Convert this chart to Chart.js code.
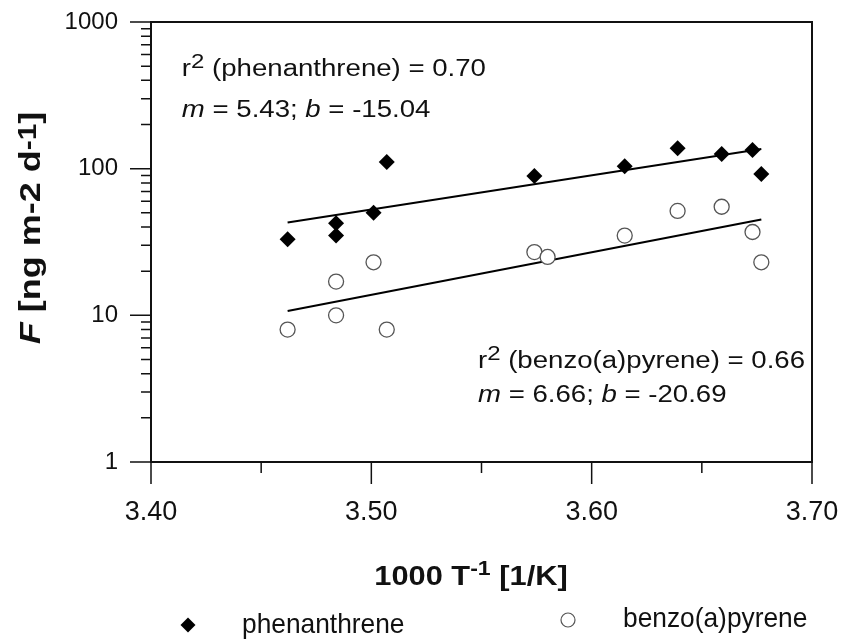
<!DOCTYPE html>
<html>
<head>
<meta charset="utf-8">
<script src="https://cdn.jsdelivr.net/npm/chart.js@4.4.1/dist/chart.umd.min.js"></script>
<style>
  html, body { margin: 0; padding: 0; background: #fff; }
</style>
</head>
<body>
<canvas id="chart" width="846" height="644"></canvas>
<script>
// measured values (log-scale flux vs 1000/T)
const phenX = [3.462, 3.484, 3.484, 3.501, 3.507, 3.574, 3.615, 3.639, 3.659, 3.673, 3.677];
const phenY = [33, 42.5, 35, 50, 111, 89, 104, 138, 126, 134, 92];

const bapX = [3.462, 3.484, 3.484, 3.501, 3.507, 3.574, 3.580, 3.615, 3.639, 3.659, 3.673, 3.677];
const bapY = [8.0, 17.0, 10.0, 23, 8.0, 27, 25, 35, 51.5, 55, 37, 23];

// regression line end points
const fitX = [3.462, 3.677];
const phenFitY = [43, 136];
const bapFitY = [10.7, 45];

const xTicks = [3.40, 3.50, 3.60, 3.70];
const xMinorTicks = [3.45, 3.55, 3.65];
const yTicks = [1, 10, 100, 1000];
const yMinorFactors = [2, 3, 4, 5, 6, 7, 8, 9];

const FONT = 'Arial, "Liberation Sans", sans-serif';

const pts = (xs, ys) => xs.map((x, i) => ({ x: x, y: ys[i] }));

// draw text made of several pieces (italic, superscript...), stretched by sx
function drawRich(ctx, parts, x, y, sx, align) {
  ctx.save();
  let w = 0;
  parts.forEach(p => { ctx.font = p.font; w += ctx.measureText(p.t).width; });
  ctx.translate(x, y);
  ctx.scale(sx, 1);
  let cx = align === 'center' ? -w / 2 : 0;
  ctx.textAlign = 'left';
  ctx.textBaseline = 'alphabetic';
  ctx.fillStyle = '#111';
  parts.forEach(p => {
    ctx.font = p.font;
    ctx.fillText(p.t, cx, p.dy || 0);
    cx += ctx.measureText(p.t).width;
  });
  ctx.restore();
}

const reg = '23px ' + FONT;
const ital = 'italic 23px ' + FONT;
const sup = '20px ' + FONT;

const extras = {
  id: 'extras',
  afterDraw(chart) {
    const ctx = chart.ctx;
    const a = chart.chartArea;
    const xs = chart.scales.x;
    const ys = chart.scales.y;

    ctx.save();
    ctx.strokeStyle = '#111';
    // frame
    ctx.lineWidth = 2;
    ctx.strokeRect(a.left, a.top, a.right - a.left, a.bottom - a.top);

    // tick marks
    ctx.lineWidth = 1.5;
    ctx.beginPath();
    xTicks.forEach(v => {
      const px = xs.getPixelForValue(v);
      ctx.moveTo(px, a.bottom); ctx.lineTo(px, a.bottom + 22);
    });
    xMinorTicks.forEach(v => {
      const px = xs.getPixelForValue(v);
      ctx.moveTo(px, a.bottom); ctx.lineTo(px, a.bottom + 11);
    });
    yTicks.forEach(v => {
      const py = ys.getPixelForValue(v);
      ctx.moveTo(a.left - 21, py); ctx.lineTo(a.left, py);
    });
    yTicks.slice(0, -1).forEach(d => {
      yMinorFactors.forEach(m => {
        const py = ys.getPixelForValue(m * d);
        ctx.moveTo(a.left - 10, py); ctx.lineTo(a.left, py);
      });
    });
    ctx.stroke();
    ctx.restore();

    // fit annotations
    drawRich(ctx, [
      { t: 'r', font: reg }, { t: '2', font: sup, dy: -8 },
      { t: ' (phenanthrene) = 0.70', font: reg }
    ], xs.getPixelForValue(3.414), ys.getPixelForValue(428), 1.2);
    drawRich(ctx, [
      { t: 'm', font: ital }, { t: ' = 5.43; ', font: reg },
      { t: 'b', font: ital }, { t: ' = -15.04', font: reg }
    ], xs.getPixelForValue(3.414), ys.getPixelForValue(225), 1.2);
    drawRich(ctx, [
      { t: 'r', font: reg }, { t: '2', font: sup, dy: -8 },
      { t: ' (benzo(a)pyrene) = 0.66', font: reg }
    ], xs.getPixelForValue(3.5484), ys.getPixelForValue(4.38), 1.2);
    drawRich(ctx, [
      { t: 'm', font: ital }, { t: ' = 6.66; ', font: reg },
      { t: 'b', font: ital }, { t: ' = -20.69', font: reg }
    ], xs.getPixelForValue(3.5484), ys.getPixelForValue(2.56), 1.2);

    // x axis title
    drawRich(ctx, [
      { t: '1000 T', font: 'bold 28px ' + FONT },
      { t: '-1', font: 'bold 21px ' + FONT, dy: -10 },
      { t: ' [1/K]', font: 'bold 28px ' + FONT }
    ], 471, 585, 1.1, 'center');

    // y axis title
    ctx.save();
    ctx.translate(40, 228);
    ctx.rotate(-Math.PI / 2);
    drawRich(ctx, [
      { t: 'F', font: 'italic bold 30px ' + FONT },
      { t: ' [ng m-2 d', font: 'bold 30px ' + FONT },
      { t: '-1', font: 'bold 25px ' + FONT, dy: -4 },
      { t: ']', font: 'bold 30px ' + FONT }
    ], 0, 0, 1.2, 'center');
    ctx.restore();

    // legend
    const d0 = chart.data.datasets[0];
    const d1 = chart.data.datasets[1];
    ctx.save();
    ctx.fillStyle = d0.backgroundColor;
    ctx.strokeStyle = d0.borderColor;
    ctx.lineWidth = 0;
    Chart.helpers.drawPoint(ctx, { pointStyle: 'rectRot', radius: 7.5, borderWidth: 0 }, 188, 625);
    ctx.fillStyle = d1.backgroundColor;
    ctx.strokeStyle = d1.borderColor;
    ctx.lineWidth = 1.2;
    Chart.helpers.drawPoint(ctx, { pointStyle: 'circle', radius: 7, borderWidth: 1.2 }, 568, 620);
    ctx.restore();
    drawRich(ctx, [{ t: d0.label, font: '28px ' + FONT }], 242, 633, 0.94);
    drawRich(ctx, [{ t: d1.label, font: '28px ' + FONT }], 623, 627, 0.94);
  }
};

const chart = new Chart(document.getElementById('chart'), {
  type: 'scatter',
  data: {
    datasets: [
      {
        label: 'phenanthrene',
        data: pts(phenX, phenY),
        pointStyle: 'rectRot',
        pointRadius: 8,
        backgroundColor: '#000',
        borderColor: '#000',
        borderWidth: 0
      },
      {
        label: 'benzo(a)pyrene',
        data: pts(bapX, bapY),
        pointStyle: 'circle',
        pointRadius: 7.5,
        backgroundColor: '#fff',
        borderColor: '#555',
        borderWidth: 1.3
      },
      {
        label: 'phenanthrene fit',
        type: 'line',
        data: pts(fitX, phenFitY),
        borderColor: '#000',
        borderWidth: 2,
        pointRadius: 0,
        fill: false
      },
      {
        label: 'benzo(a)pyrene fit',
        type: 'line',
        data: pts(fitX, bapFitY),
        borderColor: '#000',
        borderWidth: 2,
        pointRadius: 0,
        fill: false
      }
    ]
  },
  options: {
    responsive: false,
    animation: false,
    layout: { padding: { left: 0, top: 22, right: 34, bottom: 0 } },
    plugins: {
      legend: { display: false },
      tooltip: { enabled: false }
    },
    scales: {
      x: {
        type: 'linear',
        min: 3.40,
        max: 3.70,
        afterBuildTicks: s => { s.ticks = xTicks.map(v => ({ value: v })); },
        afterFit: s => {
          s.height = 182;
          s.paddingLeft = 0; s.paddingRight = 0;
        },
        ticks: {
          callback: v => v.toFixed(2),
          font: { family: FONT, size: 27 },
          color: '#111',
          padding: 34,
          maxRotation: 0,
          autoSkip: false
        },
        grid: { display: false, drawTicks: false },
        border: { display: false }
      },
      y: {
        type: 'logarithmic',
        min: 1,
        max: 1000,
        afterBuildTicks: s => { s.ticks = yTicks.map(v => ({ value: v })); },
        afterFit: s => {
          s.width = 151;
          s.paddingTop = 0; s.paddingBottom = 0;
        },
        ticks: {
          callback: v => String(v),
          font: { family: FONT, size: 24 },
          color: '#111',
          padding: 33
        },
        grid: { display: false, drawTicks: false },
        border: { display: false }
      }
    }
  },
  plugins: [extras]
});
</script>
</body>
</html>
